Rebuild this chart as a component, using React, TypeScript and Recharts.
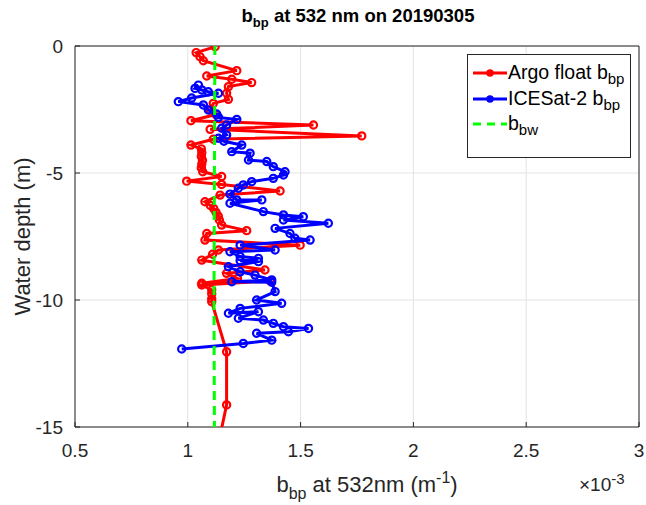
import { ScatterChart, Scatter, XAxis, YAxis, CartesianGrid, Label } from "recharts";

// b_bp values are in units of 1e-3 m^-1, depth in metres (negative = below surface)
const argoBbp = [
  1.121, 1.037, 1.054, 1.069, 1.217, 1.084, 1.195, 1.283, 1.18, 1.172, 1.18, 1.113, 1.099, 1.125,
  1.014, 1.557, 1.099, 1.771, 1.113, 1.014, 1.06, 1.062, 1.06, 1.065, 1.062, 1.06, 1.066, 1.15,
  0.995, 1.15, 1.409, 1.143, 1.076, 1.1, 1.115, 1.125, 1.135, 1.14, 1.15, 1.261, 1.084, 1.076,
  1.498, 1.136, 1.11, 1.062, 1.342, 1.172, 1.22, 1.062, 1.365, 1.062, 1.106, 1.106, 1.106, 1.106,
  1.172, 1.172, 1.125,
];
const argoDepth = [
  -0.03, -0.26, -0.42, -0.58, -0.97, -1.18, -1.31, -1.44, -1.6, -1.86, -2.1, -2.26, -2.52, -2.7,
  -2.94, -3.11, -3.28, -3.54, -3.67, -3.9, -4.05, -4.2, -4.35, -4.5, -4.65, -4.8, -4.95, -5.14,
  -5.32, -5.45, -5.71, -5.87, -6.13, -6.28, -6.4, -6.55, -6.7, -6.85, -7.05, -7.27, -7.38, -7.64,
  -7.84, -8.03, -8.2, -8.43, -8.82, -8.95, -9.15, -9.34, -9.25, -9.41, -9.6, -9.75, -9.95, -10.07,
  -12.04, -14.13, -16.1,
];

const iceBbp = [
  1.047, 1.032, 1.062, 1.091, 1.136, 1.017, 0.958, 1.069, 1.091, 1.128, 1.136, 1.217, 1.172, 1.15,
  1.172, 1.136, 1.16, 1.239, 1.195, 1.276, 1.269, 1.35, 1.379, 1.431, 1.424, 1.379, 1.283, 1.246,
  1.224, 1.187, 1.217, 1.328, 1.187, 1.335, 1.424, 1.512, 1.424, 1.623, 1.387, 1.453, 1.475, 1.542,
  1.232, 1.387, 1.187, 1.232, 1.313, 1.232, 1.313, 1.18, 1.232, 1.298, 1.372, 1.195, 1.372, 1.387,
  1.305, 1.416, 1.232, 1.18, 1.313, 1.224, 1.335, 1.379, 1.424, 1.535, 1.446, 1.305, 1.372, 1.246,
  0.973,
];
const iceDepth = [
  -1.54, -1.67, -1.73, -1.8, -1.86, -2.05, -2.19, -2.32, -2.52, -2.68, -2.81, -2.89, -3.11, -3.24,
  -3.5, -3.63, -3.75, -3.9, -4.16, -4.22, -4.49, -4.55, -4.75, -4.95, -5.08, -5.21, -5.34, -5.47,
  -5.6, -5.83, -6.06, -6.06, -6.19, -6.52, -6.65, -6.72, -6.85, -6.98, -7.18, -7.38, -7.57, -7.64,
  -7.84, -8.03, -8.1, -8.29, -8.36, -8.45, -8.49, -8.69, -8.89, -9.02, -9.21, -9.28, -9.3, -9.67,
  -10.0, -10.13, -10.33, -10.52, -10.46, -10.72, -10.79, -10.92, -11.05, -11.12, -11.25, -11.31,
  -11.58, -11.71, -11.93,
];

const bbwValues = [1.12, 1.118, 1.116, 1.118];
const bbwDepth = [0, -5, -10, -15];

const xTicks = [0.5, 1, 1.5, 2, 2.5, 3];
const yTicks = [0, -5, -10, -15];

const argoData = argoBbp.map((v, i) => ({ v, d: argoDepth[i] }));
const iceData = iceBbp.map((v, i) => ({ v, d: iceDepth[i] }));
const bbwData = bbwValues.map((v, i) => ({ v, d: bbwDepth[i] }));

const AXIS = "#262626";
const FONT = "'Liberation Sans', Arial, Helvetica, sans-serif";
const RED = "#ff0000";
const BLUE = "#0000ff";
const GREEN = "#00ff00";

const circle = (color: string) => (p: any) =>
  <circle cx={p.cx} cy={p.cy} r={3.6} fill="none" stroke={color} strokeWidth={2.2} />;

const BottomTick = ({ x, y, payload }: any) => (
  <g>
    <line x1={x} x2={x} y1={y} y2={y - 5} stroke={AXIS} />
    <text x={x} y={y + 30} textAnchor="middle" fontSize={19} fill={AXIS} fontFamily={FONT}>
      {payload.value}
    </text>
  </g>
);
const TopTick = ({ x, y }: any) => <line x1={x} x2={x} y1={y} y2={y + 5} stroke={AXIS} />;
const LeftTick = ({ x, y, payload }: any) => (
  <g>
    <line x1={x} x2={x + 5} y1={y} y2={y} stroke={AXIS} />
    <text x={x - 12} y={y + 7} textAnchor="end" fontSize={19} fill={AXIS} fontFamily={FONT}>
      {payload.value}
    </text>
  </g>
);
const RightTick = ({ x, y }: any) => <line x1={x} x2={x - 5} y1={y} y2={y} stroke={AXIS} />;

const XLabel = ({ viewBox }: any) => (
  <text
    x={viewBox.x + viewBox.width / 2 + 10}
    y={viewBox.y + 65}
    textAnchor="middle"
    fontSize={22}
    fill={AXIS}
    fontFamily={FONT}
  >
    b<tspan dy={7} fontSize={16}>bp</tspan>
    <tspan dy={-7}> at 532nm (m</tspan>
    <tspan dy={-9} fontSize={16}>-1</tspan>
    <tspan dy={9}>)</tspan>
  </text>
);

const YLabel = ({ viewBox }: any) => (
  <text
    transform={`translate(${viewBox.x + 22},${viewBox.y + viewBox.height / 2}) rotate(-90)`}
    textAnchor="middle"
    dominantBaseline="central"
    fontSize={22}
    fill={AXIS}
    fontFamily={FONT}
  >
    Water depth (m)
  </text>
);

const legendItems = [
  { name: "Argo float b", sub: "bp", color: RED, dash: false },
  { name: "ICESat-2 b", sub: "bp", color: BLUE, dash: false },
  { name: "b", sub: "bw", color: GREEN, dash: true },
];

export default function App() {
  return (
    <div style={{ position: "absolute", left: 0, top: 0, width: 646, height: 505, background: "#fff", fontFamily: FONT }}>
      <div style={{ position: "absolute", left: 0, width: 716, top: 5, textAlign: "center", fontSize: 18.5, fontWeight: "bold", color: "#000" }}>
        b<sub style={{ fontSize: 13 }}>bp</sub> at 532 nm on 20190305
      </div>
      <ScatterChart width={646} height={505} margin={{ top: 0, right: 0, bottom: 0, left: 0 }}>
        <CartesianGrid stroke="#e3e3e3" horizontalValues={yTicks} verticalValues={xTicks} />
        <XAxis
          type="number"
          dataKey="v"
          domain={[0.5, 3]}
          ticks={xTicks}
          allowDataOverflow
          height={78}
          tickSize={0}
          tickMargin={0}
          tickLine={false}
          tick={<BottomTick />}
          stroke={AXIS}
        >
          <Label content={<XLabel />} />
        </XAxis>
        <XAxis
          xAxisId="top"
          orientation="top"
          type="number"
          domain={[0.5, 3]}
          ticks={xTicks}
          height={46}
          tickSize={0}
          tickMargin={0}
          tickLine={false}
          tick={<TopTick />}
          stroke={AXIS}
        />
        <YAxis
          type="number"
          dataKey="d"
          domain={[-15, 0]}
          ticks={yTicks}
          allowDataOverflow
          width={75}
          tickSize={0}
          tickMargin={0}
          tickLine={false}
          tick={<LeftTick />}
          stroke={AXIS}
        >
          <Label content={<YLabel />} />
        </YAxis>
        <YAxis
          yAxisId="right"
          orientation="right"
          type="number"
          domain={[-15, 0]}
          ticks={yTicks}
          width={7}
          tickSize={0}
          tickMargin={0}
          tickLine={false}
          tick={<RightTick />}
          stroke={AXIS}
        />
        <Scatter
          data={argoData}
          line={{ stroke: RED, strokeWidth: 3 }}
          shape={circle(RED)}
          fill={RED}
          isAnimationActive={false}
        />
        <Scatter
          data={iceData}
          line={{ stroke: BLUE, strokeWidth: 3 }}
          shape={circle(BLUE)}
          fill={BLUE}
          isAnimationActive={false}
        />
        <Scatter
          data={bbwData}
          line={{ stroke: GREEN, strokeWidth: 3, strokeDasharray: "9 6" }}
          shape={() => <g />}
          fill={GREEN}
          isAnimationActive={false}
        />
      </ScatterChart>
      <div style={{ position: "absolute", left: 579, top: 470, fontSize: 19, color: AXIS }}>
        ×10<sup style={{ fontSize: 15 }}>-3</sup>
      </div>
      <div
        style={{
          position: "absolute",
          left: 467,
          top: 54,
          width: 164,
          height: 104,
          border: `1px solid ${AXIS}`,
          background: "#fff",
          boxSizing: "border-box",
        }}
      >
        {legendItems.map((it, i) => (
          <div key={i} style={{ position: "absolute", left: 4, top: 5 + i * 25.5, height: 26, display: "flex", alignItems: "flex-start", whiteSpace: "nowrap" }}>
            <svg width={36} height={22} style={{ marginTop: 2 }}>
              <line x1={1} x2={35} y1={11} y2={11} stroke={it.color} strokeWidth={3} strokeDasharray={it.dash ? "8 6" : undefined} />
              {!it.dash && <circle cx={18} cy={11} r={3} fill={it.color} stroke={it.color} strokeWidth={1.5} />}
            </svg>
            <span style={{ fontSize: 19.5, color: "#000", lineHeight: "24px" }}>
              {it.name}
              <sub style={{ fontSize: 15, verticalAlign: -5 }}>{it.sub}</sub>
            </span>
          </div>
        ))}
      </div>
    </div>
  );
}
